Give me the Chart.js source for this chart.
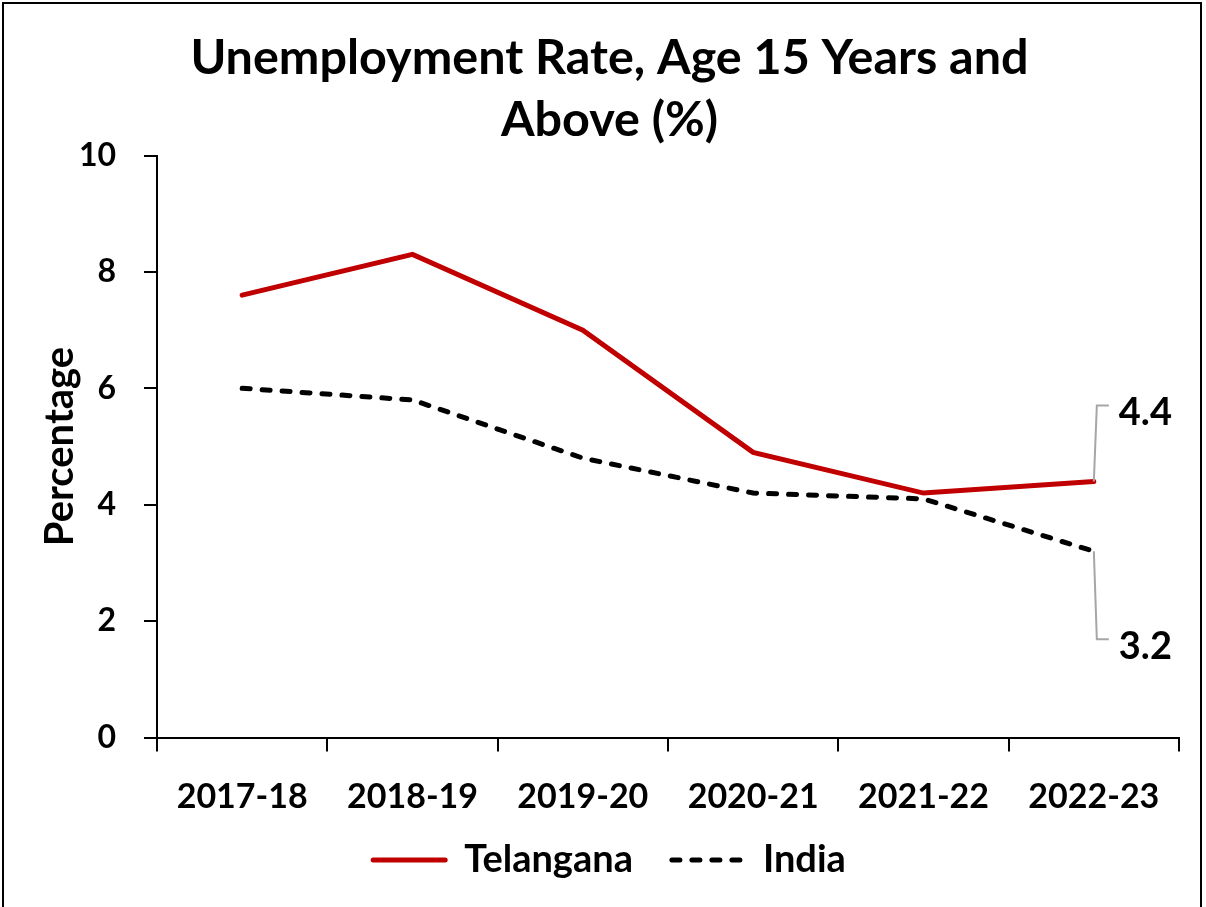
<!DOCTYPE html>
<html>
<head>
<meta charset="utf-8">
<title>Unemployment Rate</title>
<script src="https://cdn.jsdelivr.net/npm/chart.js@4"></script>
<style>
    html, body { margin: 0; padding: 0; background: #fff; }
    #wrap { position: relative; width: 1206px; height: 907px; overflow: hidden; }
    #frame {
        position: absolute; left: 2px; top: 2px; width: 1196px; height: 920px;
        border: 2px solid #000; pointer-events: none;
    }
</style>
</head>
<body>
<div id="wrap">
    <canvas id="rateChart" width="1206" height="907"></canvas>
    <div id="frame"></div>
</div>
<script>
// --- Data ---
const years = ['2017-18', '2018-19', '2019-20', '2020-21', '2021-22', '2022-23'];
const telanganaRate = [7.6, 8.3, 7.0, 4.9, 4.2, 4.4];
const indiaRate = [6.0, 5.8, 4.8, 4.2, 4.1, 3.2];
const yTicks = [0, 2, 4, 6, 8, 10];

const FONT = 'Lato, "Noto Sans", sans-serif';

// Callout for the last point of each series: grey elbow leader + bold value
const endLabels = {
    id: 'endLabels',
    afterDatasetsDraw(chart, args, opts) {
        const ctx = chart.ctx;
        chart.data.datasets.forEach((ds, i) => {
            const meta = chart.getDatasetMeta(i);
            const last = ds.data.length - 1;
            const pt = meta.data[last];
            const ly = pt.y + opts.offsets[i];
            ctx.save();
            ctx.strokeStyle = '#a6a6a6';
            ctx.lineWidth = 2;
            ctx.beginPath();
            ctx.moveTo(pt.x, pt.y);
            ctx.lineTo(pt.x + 3, ly);
            ctx.lineTo(pt.x + 15, ly);
            ctx.stroke();
            ctx.fillStyle = '#000';
            ctx.font = 'bold 38px ' + FONT;
            ctx.textAlign = 'left';
            ctx.textBaseline = 'middle';
            ctx.fillText(ds.data[last].toFixed(1), pt.x + 25, ly + 7);
            ctx.restore();
        });
    }
};

// Pull the legend row up closer to the category labels
const legendLift = {
    id: 'legendLift',
    afterLayout(chart, args, opts) {
        if (!chart.legend) return;
        chart.legend.top -= opts.lift;
        chart.legend.bottom -= opts.lift;
    }
};

// Legend lines take their dash and width from the dataset, not the point
const legendLabels = (chart) => {
    return Chart.defaults.plugins.legend.labels.generateLabels(chart).map(item => {
        const ds = chart.data.datasets[item.datasetIndex];
        item.lineDash = ds.borderDash || [];
        item.lineWidth = ds.borderWidth;
        item.lineCap = 'round';
        return item;
    });
};

new Chart(document.getElementById('rateChart'), {
    type: 'line',
    data: {
        labels: years,
        datasets: [{
            label: 'Telangana',
            data: telanganaRate,
            borderColor: '#c00000',
            backgroundColor: '#c00000',
            borderWidth: 5,
            borderCapStyle: 'round',
            pointRadius: 0,
            tension: 0
        }, {
            label: 'India',
            data: indiaRate,
            borderColor: '#000',
            backgroundColor: '#000',
            borderWidth: 5,
            borderDash: [8, 12],
            borderCapStyle: 'round',
            pointRadius: 0,
            tension: 0
        }]
    },
    options: {
        responsive: false,
        animation: false,
        layout: { padding: { left: 40, right: 27, top: 0, bottom: 0.5 } },
        plugins: {
            title: {
                display: true,
                text: ['Unemployment Rate, Age 15 Years and', 'Above (%)'],
                color: '#000',
                font: { family: FONT, size: 48.5, weight: 'bold', lineHeight: 62 / 48.5 },
                padding: { top: 27, bottom: 4.5 }
            },
            legend: {
                position: 'bottom',
                labels: {
                    color: '#000',
                    font: { family: FONT, size: 38, weight: 'bold' },
                    usePointStyle: true,
                    pointStyle: 'line',
                    pointStyleWidth: 72,
                    padding: 39,
                    generateLabels: legendLabels
                }
            },
            legendLift: { lift: 17.5 },
            tooltip: { enabled: false },
            endLabels: { offsets: [-76, 88] }
        },
        scales: {
            x: {
                offset: true,
                grid: {
                    offset: true,
                    drawOnChartArea: false,
                    color: '#000',
                    lineWidth: 2,
                    tickLength: 14
                },
                border: { color: '#000', width: 2 },
                ticks: {
                    color: '#000',
                    font: { family: FONT, size: 34, weight: 'bold' },
                    padding: 25,
                    maxRotation: 0,
                    autoSkip: false
                },
                afterFit: (scale) => { scale.height = 82; }
            },
            y: {
                min: 0,
                max: 10,
                afterBuildTicks: (scale) => { scale.ticks = yTicks.map(v => ({ value: v })); },
                grid: {
                    drawOnChartArea: false,
                    color: '#000',
                    lineWidth: 2,
                    tickLength: 13
                },
                border: { color: '#000', width: 2 },
                ticks: {
                    color: '#000',
                    font: { family: FONT, size: 32, weight: 'bold' },
                    padding: 28
                },
                title: {
                    display: true,
                    text: 'Percentage',
                    color: '#000',
                    font: { family: FONT, size: 40, weight: 'bold', lineHeight: 1 },
                    padding: { top: 0, bottom: 0 }
                },
                afterFit: (scale) => { scale.width = 117; }
            }
        }
    },
    plugins: [endLabels, legendLift]
});
</script>
</body>
</html>
